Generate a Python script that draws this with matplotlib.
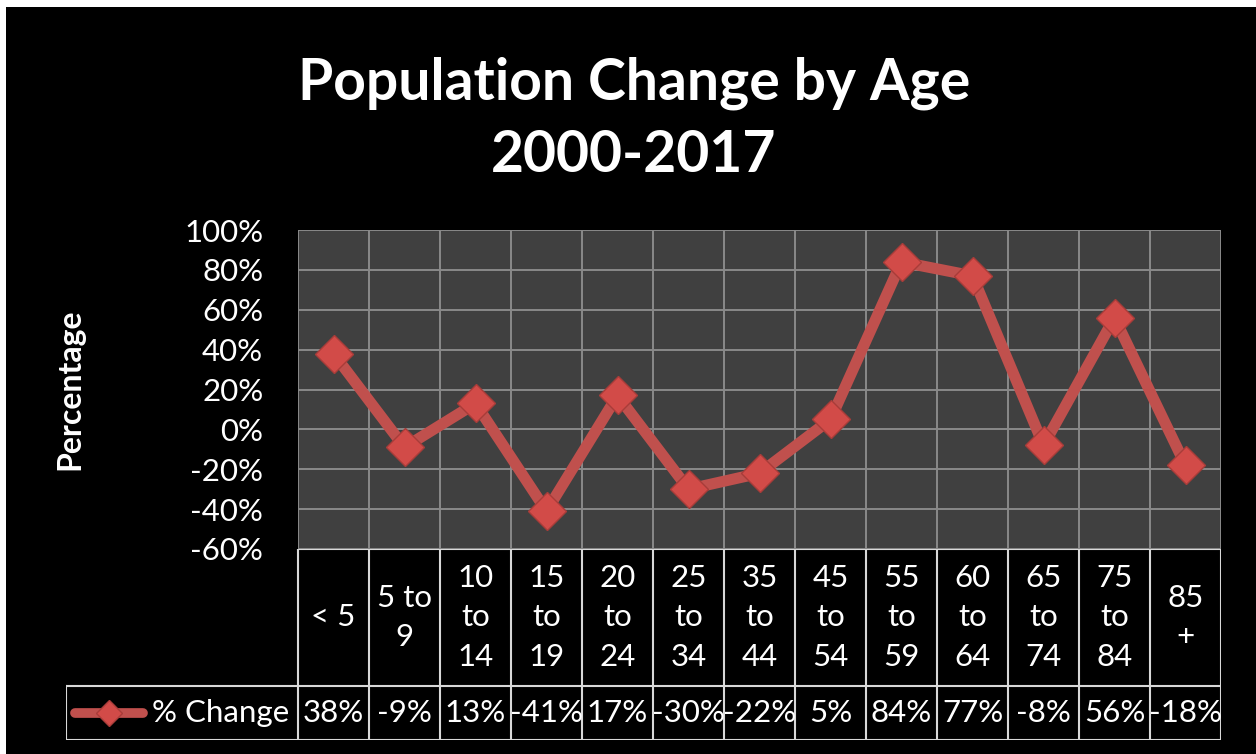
import numpy as np
import matplotlib.pyplot as plt
from matplotlib.patches import Rectangle

# ---------------------------------------------------------------
# -- data
categories = ['< 5', '5 to\n9', '10\nto\n14', '15\nto\n19', '20\nto\n24',
              '25\nto\n34', '35\nto\n44', '45\nto\n54', '55\nto\n59',
              '60\nto\n64', '65\nto\n74', '75\nto\n84', '85\n+']
pct_change = [38, -9, 13, -41, 17, -30, -22, 5, 84, 77, -8, 56, -18]
yticks = [-60, -40, -20, 0, 20, 40, 60, 80, 100]
series_name = '% Change'

plt.rcParams['font.family'] = ['Lato', 'DejaVu Sans']

red = '#c0504d'
grid_c = '#8a8a8a'
tbl_c = '#d8d8d8'
fs = 22.5

W, H = 1256, 754
fig = plt.figure(figsize=(W/100, H/100), dpi=100, facecolor='black')

# thin white margin top/left, as in the screenshot
fig.patches.append(Rectangle((0, 0), 6/W, 1, transform=fig.transFigure,
                             facecolor='white', edgecolor='none'))
fig.patches.append(Rectangle((0, 1-7/H), 1, 7/H, transform=fig.transFigure,
                             facecolor='white', edgecolor='none'))

def px(x0, y0, x1, y1):
    return [x0/W, 1-y1/H, (x1-x0)/W, (y1-y0)/H]

# ---------------------------------------------------------------
# -- plot area
ax = fig.add_axes(px(298, 230, 1221, 549))
ax.set_facecolor('#404040')
x = np.arange(len(categories))
ax.plot(x, pct_change, color=red, lw=8, marker='D', ms=19,
        mfc='#d24b48', mec='#a83c39', mew=1, zorder=3)
ax.set_xlim(-0.5, len(categories)-0.5)
ax.set_ylim(-60, 100)
ax.set_yticks(yticks)
ax.set_yticklabels(['%d%%' % v for v in yticks], color='white', fontsize=fs)
ax.set_xticks(np.arange(-0.5, len(categories)))
ax.tick_params(axis='x', length=0, labelbottom=False)
ax.tick_params(axis='y', length=0, pad=25)
ax.grid(True, color=grid_c, lw=1.4)
for s in ax.spines.values():
    s.set_visible(False)
ax.set_axisbelow(True)
ax.set_ylabel('Percentage', color='white', fontsize=23, fontweight='bold', labelpad=0)
ax.yaxis.set_label_coords(-(298-84)/923.0, 0.5)

# ---------------------------------------------------------------
# -- title
fig.text(634/W, 1-83/H, 'Population Change by Age', ha='center', va='center',
         color='white', fontsize=41, fontweight='bold')
fig.text(634/W, 1-156/H, '2000-2017', ha='center', va='center',
         color='white', fontsize=41, fontweight='bold')

# ---------------------------------------------------------------
# -- data table below the plot
leg_w = (298-66)/71.0
tx = fig.add_axes(px(66, 549, 1221, 740))
tx.set_xlim(-0.5-leg_w, len(categories)-0.5)
tx.set_ylim(0, 191)
tx.axis('off')

row_split = 740-686
lk = dict(color=tbl_c, lw=1.5)
# horizontal lines
tx.plot([-0.5, len(categories)-0.5], [191, 191], **lk)
tx.plot([-0.5-leg_w, len(categories)-0.5], [row_split, row_split], **lk)
tx.plot([-0.5-leg_w, len(categories)-0.5], [0, 0], **lk)
# vertical lines
for i in range(len(categories)+1):
    tx.plot([i-0.5, i-0.5], [0, 191], **lk)
tx.plot([-0.5-leg_w]*2, [0, row_split], **lk)

for i, (c, v) in enumerate(zip(categories, pct_change)):
    tx.text(i, (191+row_split)/2, c, ha='center', va='center', color='white',
            fontsize=fs, linespacing=1.48)
    tx.text(i, row_split/2, '%d%%' % v, ha='center', va='center', color='white',
            fontsize=fs)

# legend key in the table
left = -0.5-leg_w
tx.plot([left+0.127, left+1.085], [row_split/2]*2, color=red, lw=7,
        solid_capstyle='round')
tx.plot([left+0.61], [row_split/2], marker='D', ms=13, color='#d24b48', mec='#a83c39')
tx.text(left+1.21, row_split/2, series_name, ha='left', va='center', color='white',
        fontsize=fs)

fig.savefig('out.png', dpi=100, facecolor=fig.get_facecolor())
